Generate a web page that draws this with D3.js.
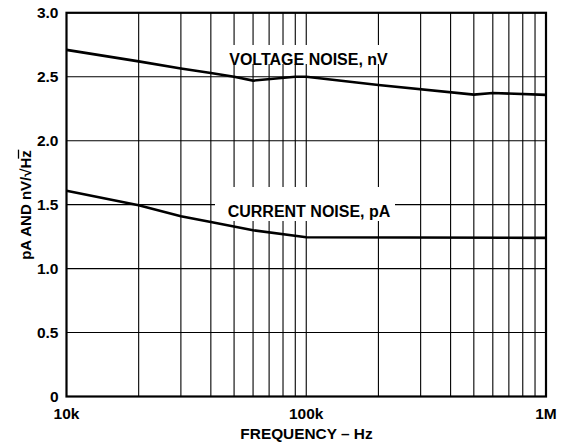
<!DOCTYPE html>
<html><head><meta charset="utf-8">
<script src="https://cdn.jsdelivr.net/npm/d3@7"></script>
<style>body{margin:0;background:#fff}svg{display:block}text{font-family:"Liberation Sans",Arial,sans-serif;font-weight:bold;fill:#000}</style>
</head><body><svg id="c" width="564" height="445"></svg>
<script>
const voltageFreq = [10000, 20000, 30000, 40000, 50000, 60000, 90000, 100000, 200000, 500000, 600000, 1000000];
const voltageVal  = [2.71, 2.62, 2.565, 2.53, 2.50, 2.47, 2.50, 2.50, 2.435, 2.36, 2.373, 2.358];
const currentFreq = [10000, 20000, 30000, 40000, 60000, 100000, 1000000];
const currentVal  = [1.608, 1.496, 1.41, 1.365, 1.30, 1.245, 1.24];
const yTicks = [0, 0.5, 1.0, 1.5, 2.0, 2.5, 3.0];
const yTickLabels = ["0", "0.5", "1.0", "1.5", "2.0", "2.5", "3.0"];
const xTicks = [10000, 100000, 1000000];
const xTickLabels = ["10k", "100k", "1M"];
const seriesLabels = ["VOLTAGE NOISE, nV", "CURRENT NOISE, pA"];

const svg = d3.select("#c");
const L = 66.5, R = 546, T = 12.8, B = 396.5;
const x = d3.scaleLog().domain([1e4, 1e6]).range([L, R]);
const y = d3.scaleLinear().domain([0, 3]).range([B, T]);

// minor vertical grid
const minor = [];
for (const dec of [1e4, 1e5]) for (let k = 2; k <= 9; k++) minor.push(dec * k);
const g = svg.append("g").attr("stroke", "#000").attr("stroke-width", 1.1);
g.selectAll("line.v").data(minor.concat([1e5])).join("line")
  .attr("x1", d => x(d)).attr("x2", d => x(d)).attr("y1", T).attr("y2", B);
g.selectAll("line.h").data(yTicks.slice(1, -1)).join("line")
  .attr("x1", L).attr("x2", R).attr("y1", d => y(d)).attr("y2", d => y(d));

// label masks
svg.append("rect").attr("x", 224).attr("y", 45).attr("width", 170).attr("height", 19).attr("fill", "#fff");
svg.append("rect").attr("x", 215).attr("y", 187).attr("width", 180).attr("height", 34).attr("fill", "#fff");

// frame
svg.append("rect").attr("x", L).attr("y", T).attr("width", R - L).attr("height", B - T)
  .attr("fill", "none").attr("stroke", "#000").attr("stroke-width", 2.2);

const line = d3.line().x(d => x(d[0])).y(d => y(d[1]));
svg.append("path").datum(voltageFreq.map((f, i) => [f, voltageVal[i]]))
  .attr("d", line).attr("fill", "none").attr("stroke", "#000").attr("stroke-width", 2.6);
svg.append("path").datum(currentFreq.map((f, i) => [f, currentVal[i]]))
  .attr("d", line).attr("fill", "none").attr("stroke", "#000").attr("stroke-width", 2.6);

// y tick labels
svg.selectAll("text.yt").data(yTicks).join("text")
  .attr("x", 58.5).attr("y", d => y(d)).attr("dy", "0.36em").attr("text-anchor", "end")
  .attr("font-size", 15.5).text((d, i) => yTickLabels[i]);
// x tick labels
svg.selectAll("text.xt").data(xTicks).join("text")
  .attr("x", d => x(d)).attr("y", 419).attr("text-anchor", "middle")
  .attr("font-size", 15.5).text((d, i) => xTickLabels[i]);

svg.append("text").attr("x", 306.5).attr("y", 439).attr("text-anchor", "middle")
  .attr("font-size", 15.4).text("FREQUENCY – Hz");

svg.append("text").attr("x", 308.5).attr("y", 64.5).attr("text-anchor", "middle")
  .attr("font-size", 16).text(seriesLabels[0]);
svg.append("text").attr("x", 309).attr("y", 216.5).attr("text-anchor", "middle")
  .attr("font-size", 16).text(seriesLabels[1]);

// y axis title
const tx = 31, ty = 205;
const yt = svg.append("text").attr("transform", `translate(${tx},${ty}) rotate(-90)`)
  .attr("text-anchor", "middle").attr("font-size", 15);
yt.append("tspan").text("pA AND nV/√");
yt.append("tspan").text("Hz");
const node = yt.node();
const full = node.getComputedTextLength();
const pre = node.getSubStringLength(0, 12);
const hzw = node.getSubStringLength(12, 2);
const start = -full / 2;
svg.append("line").attr("transform", `translate(${tx},${ty}) rotate(-90)`)
  .attr("x1", start + pre - 1).attr("x2", start + pre + hzw + 0.5)
  .attr("y1", -12.5).attr("y2", -12.5).attr("stroke", "#000").attr("stroke-width", 1.3);
</script></body></html>
